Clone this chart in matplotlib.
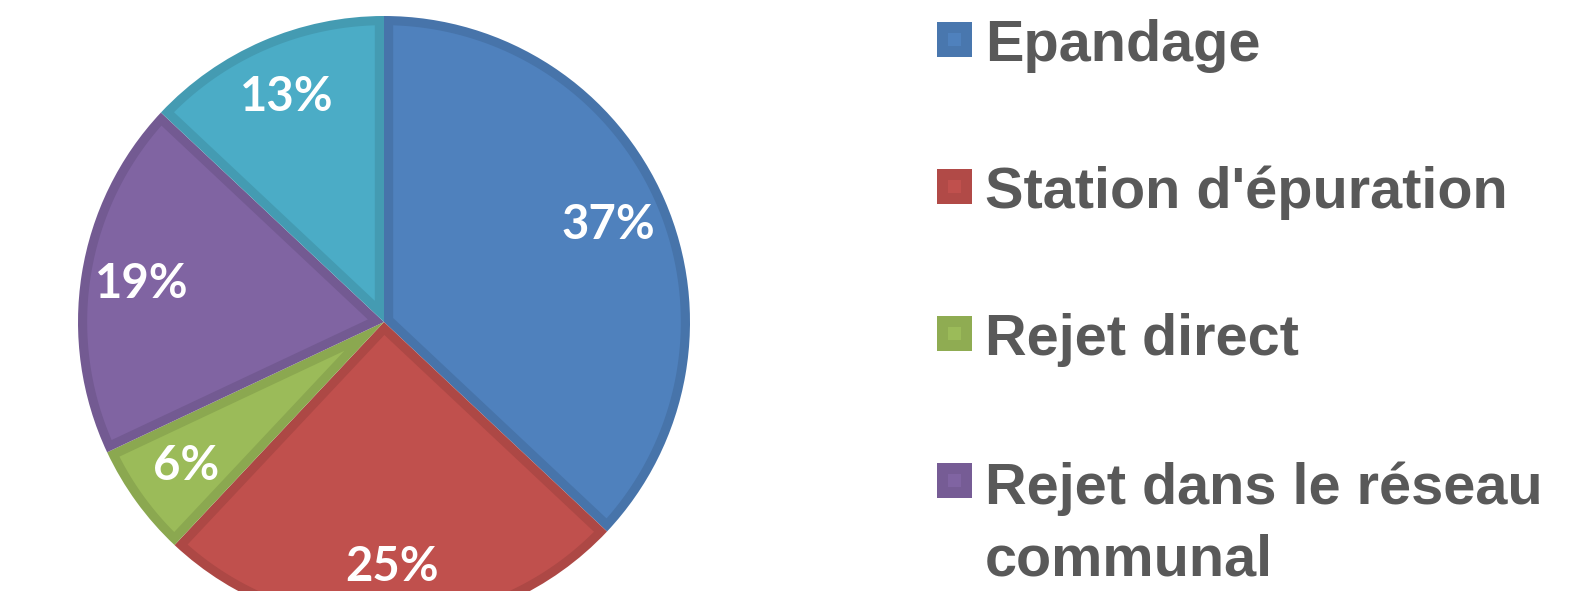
import matplotlib.pyplot as plt
from matplotlib.patches import Rectangle, Polygon
from matplotlib.colors import to_rgb
import numpy as np

labels = ['Epandage', "Station d'épuration", 'Rejet direct',
          'Rejet dans le réseau\ncommunal', 'Autre']
values = [37, 25, 6, 19, 13]
colors = ['#4F81BD', '#C0504D', '#9BBB59', '#8064A2', '#4BACC6']

W, H = 1570, 591
fig = plt.figure(figsize=(W / 100, H / 100), dpi=100)

def darker(c, f=0.9):
    return tuple(v * f for v in to_rgb(c))

# pie: centre (384, 322) px, radius ~306 px, spills past the bottom edge
cx, cy, r = 384, 322, 306
ax = fig.add_axes([(cx - r) / W, (H - cy - r) / H, 2 * r / W, 2 * r / H])

wedges, texts, autotexts = ax.pie(
    values, colors=[darker(c) for c in colors], startangle=90, counterclock=False,
    radius=1, autopct='%d%%', pctdistance=0.8,
    textprops=dict(color='white', fontsize=34, fontweight='bold', family='Lato'))
ax.set_xlim(-1, 1)
ax.set_ylim(-1, 1)
ax.set_aspect('equal')
ax.axis('off')

# lighter inner face of each slice, inset so a darker rim stays visible
d = 0.03
for w, c in zip(wedges, colors):
    w.set_linewidth(0)
    t1, t2 = np.radians(w.theta1), np.radians(w.theta2)
    half = (t2 - t1) / 2
    apex = d / np.sin(half)
    mid = (t1 + t2) / 2
    delta = np.arcsin(d / (1 - d))
    ang = np.linspace(t1 + delta, t2 - delta, 100)
    pts = [(apex * np.cos(mid), apex * np.sin(mid))]
    pts += list(zip((1 - d) * np.cos(ang), (1 - d) * np.sin(ang)))
    ax.add_patch(Polygon(pts, closed=True, facecolor=c, edgecolor='none', zorder=1.5))
for t in autotexts:
    t.set_zorder(3)

# legend drawn by hand on the right
y0, step = 39.5, 147
fs = 41.5
line_px = 73
for i, (lab, c) in enumerate(zip(labels, colors)):
    yc = y0 + i * step
    sq = 35
    fig.patches.append(Rectangle((937 / W, (H - yc - sq / 2) / H), sq / W, sq / H,
                                 transform=fig.transFigure, facecolor=darker(c, 0.92),
                                 edgecolor='none'))
    isq = 13
    fig.patches.append(Rectangle(((954.5 - isq / 2) / W, (H - yc - isq / 2) / H), isq / W, isq / H,
                                 transform=fig.transFigure, facecolor=c, edgecolor='none'))
    # baseline of the last line for multi-line labels
    nl = lab.count('\n')
    yb = yc + 21.5 + nl * line_px
    fig.text(985 / W, (H - yb) / H, lab, ha='left', va='baseline',
             fontsize=fs, fontweight='bold', color='#595959', family='Liberation Sans',
             linespacing=1.415)

fig.savefig('out.png', dpi=100)
